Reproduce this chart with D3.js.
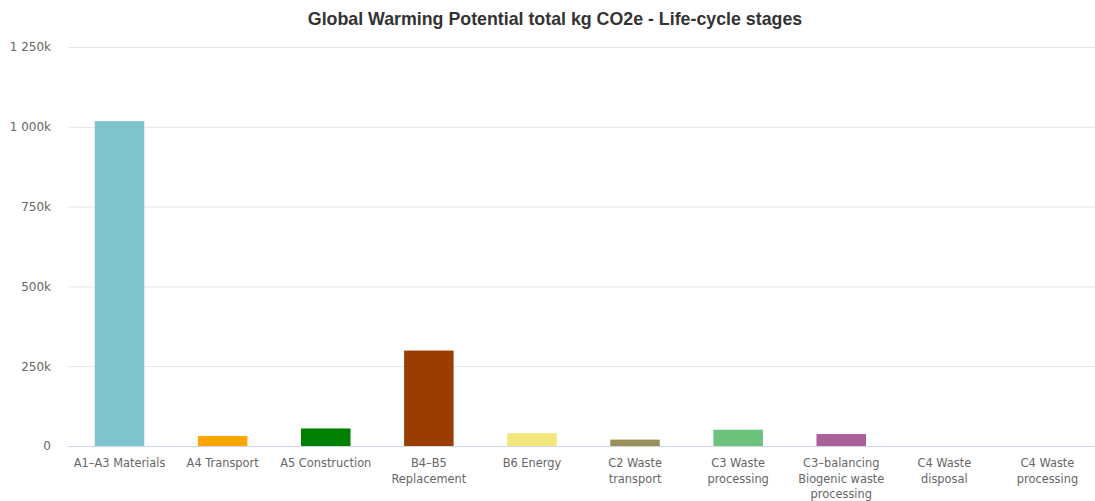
<!DOCTYPE html>
<html>
<head>
<meta charset="utf-8">
<script src="https://cdn.jsdelivr.net/npm/d3@7"></script>
<style>
  html, body { margin: 0; padding: 0; background: #fff; }
  svg { display: block; }
</style>
</head>
<body>
<svg id="chart" width="1095" height="501"></svg>
<script>
// Life-cycle stages and their global warming potential (kg CO2e)
const stages = [
  "A1–A3 Materials", "A4 Transport", "A5 Construction", "B4–B5 Replacement",
  "B6 Energy", "C2 Waste transport", "C3 Waste processing",
  "C3–balancing Biogenic waste processing", "C4 Waste disposal", "C4 Waste processing"
];
const stageLines = [
  ["A1–A3 Materials"], ["A4 Transport"], ["A5 Construction"], ["B4–B5", "Replacement"],
  ["B6 Energy"], ["C2 Waste", "transport"], ["C3 Waste", "processing"],
  ["C3–balancing", "Biogenic waste", "processing"], ["C4 Waste", "disposal"], ["C4 Waste", "processing"]
];
const gwpValues = [1018000, 31000, 55000, 299000, 40000, 20000, 51000, 37500, 0, 0];
const stageColors = ["#7fc4cc", "#ffa500", "#008000", "#9a3d00", "#f2e77a",
                     "#9b8f5a", "#6cc27a", "#aa6199", "#7f7f7f", "#7f7f7f"];
const yTicks = [0, 250000, 500000, 750000, 1000000, 1250000];
const yTickLabels = ["0", "250k", "500k", "750k", "1 000k", "1 250k"];
const titleText = "Global Warming Potential total kg CO2e - Life-cycle stages";

const svg = d3.select("#chart");
const plotLeft = 68, plotRight = 1099, plotTop = 47, plotBottom = 446;
const labelFont = "'DejaVu Sans', sans-serif";

const x = d3.scaleBand().domain(stages).range([plotLeft, plotRight]).paddingInner(0.52).paddingOuter(0.26);
const y = d3.scaleLinear().domain([0, 1250000]).range([plotBottom, plotTop]);

// title
svg.append("text")
  .attr("x", 555).attr("y", 25)
  .attr("text-anchor", "middle")
  .attr("font-family", "'Liberation Sans', Arial, sans-serif")
  .attr("font-weight", "bold")
  .attr("font-size", 17.8)
  .attr("fill", "#333")
  .text(titleText);

// y axis: gridlines + labels
const yAxis = d3.axisLeft(y)
  .tickValues(yTicks)
  .tickSize(-(plotRight - plotLeft))
  .tickPadding(17)
  .tickFormat((d, i) => yTickLabels[i]);
const gy = svg.append("g").attr("transform", `translate(${plotLeft},0)`).call(yAxis);
gy.select(".domain").remove();
gy.selectAll(".tick line").attr("stroke", "#e6e6e6").attr("stroke-width", 1);
gy.selectAll(".tick text")
  .attr("font-family", labelFont)
  .attr("font-size", 12)
  .attr("fill", "#666");

// bars
svg.append("g").selectAll("rect")
  .data(gwpValues)
  .join("rect")
  .attr("x", (d, i) => x(stages[i]))
  .attr("width", x.bandwidth())
  .attr("y", d => y(d))
  .attr("height", d => plotBottom - y(d))
  .attr("fill", (d, i) => stageColors[i]);

// x axis baseline
const xAxis = d3.axisBottom(x).tickSize(0).tickFormat("");
const gx = svg.append("g").attr("transform", `translate(0,${plotBottom})`).call(xAxis);
gx.select(".domain").attr("stroke", "#ccd6eb").attr("stroke-width", 1);

// category labels (wrapped)
const lbl = svg.append("g").selectAll("text")
  .data(stages)
  .join("text")
  .attr("x", d => x(d) + x.bandwidth() / 2)
  .attr("y", 467)
  .attr("text-anchor", "middle")
  .attr("font-family", labelFont)
  .attr("font-size", 11.4)
  .attr("fill", "#666");
lbl.each(function(d, i) {
  const t = d3.select(this);
  stageLines[i].forEach((line, j) => {
    t.append("tspan")
      .attr("x", x(d) + x.bandwidth() / 2)
      .attr("dy", j === 0 ? 0 : 15.5)
      .text(line);
  });
});
</script>
</body>
</html>
